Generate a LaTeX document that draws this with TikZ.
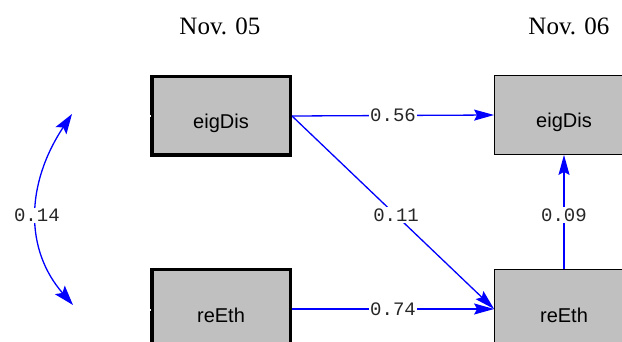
\documentclass[tikz,border=0pt]{standalone}
\usepackage{fontspec}
\setmainfont{Liberation Serif}
\newfontfamily\arialfont{Liberation Sans}
\newfontfamily\courfont{Liberation Mono}
\usetikzlibrary{arrows.meta}
\definecolor{boxgray}{RGB}{192,192,192}
\begin{document}
\begin{tikzpicture}[x=1pt,y=-1pt,
  >={Stealth[length=20pt,width=11pt,inset=3pt]},
  obsbox/.style={draw,fill=boxgray,minimum width=138.5pt,minimum height=78.5pt,
    text height=26pt,text depth=0pt,font=\arialfont\fontsize{20}{22}\selectfont},
  wave1/.style={obsbox,line width=3.5pt},
  wave2/.style={obsbox,line width=1.3pt},
  effect/.style={blue,line width=1.3pt,->},
  coef/.style={fill=white,text=black!85,inner sep=1.5pt,font=\courfont\fontsize{19}{20}\selectfont},
  wavehead/.style={font=\fontsize{25}{28}\selectfont}]
\clip (0,0) rectangle (622,342);

\node[wavehead] (head1) at (220,26) {Nov. 05};
\node[wavehead] (head2) at (569,26) {Nov. 06};

\node[wave1] (eig1) at (221,116) {eigDis};
\node[wave1] (eth1) at (221,309) {reEth};
\node[wave2] (eig2) at (564,115) {eigDis};
\node[wave2] (eth2) at (564,309) {reEth};

% little white ticks on the left borders
\draw[white,line width=2pt] ([xshift=-4.5pt]eig1.west) -- ([xshift=1pt]eig1.west);
\draw[white,line width=2pt] ([xshift=-4.5pt,yshift=-1pt]eth1.west) -- ([xshift=1pt,yshift=-1pt]eth1.west);

\draw[effect] (eig1.east) -- node[coef] {0.56} (eig2.west);
\draw[effect] (eig1.east) -- node[coef,pos=0.515] {0.11} (eth2.west);
\draw[effect] (eth1.east) -- node[coef] {0.74} (eth2.west);
\draw[effect] (eth2.north) -- node[coef,pos=0.47] {0.09} (eig2.south);

% covariance
\coordinate (cov1) at (72,114);
\coordinate (cov2) at (73,305);
\draw[blue,line width=1.3pt,{Stealth[length=20pt,width=13pt,inset=4pt]}-{Stealth[length=20pt,width=13pt,inset=4pt]}]
  (cov1) .. controls (25,185) and (25,250) .. node[coef] {0.14} (cov2);
\end{tikzpicture}
\end{document}
